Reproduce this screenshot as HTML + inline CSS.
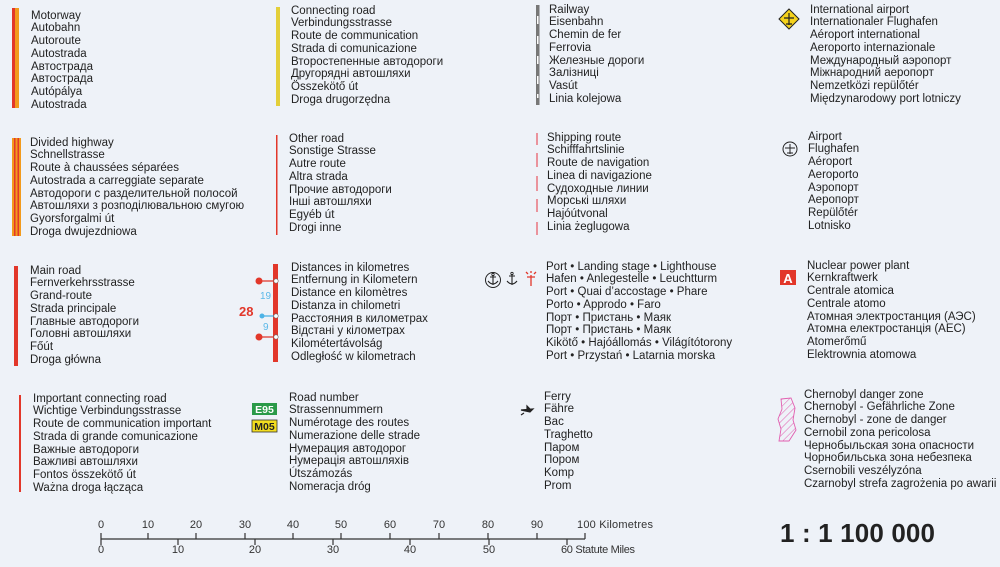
<!DOCTYPE html>
<html><head><meta charset="utf-8"><style>
body{margin:0;width:1000px;height:567px;background:#eef2f8;position:relative;overflow:hidden;font-family:"Liberation Sans",sans-serif;color:#222}
.t{position:absolute;font-size:11.5px;line-height:12.75px;white-space:nowrap}
.a{position:absolute}
</style></head><body>
<svg class="a" style="left:0;top:0" width="1000" height="567">
<rect x="12" y="8" width="7" height="100" fill="#f29a1c"/><rect x="12" y="8" width="3" height="100" fill="#e2372a"/>
<rect x="12" y="138" width="9" height="98" fill="#f29a1c"/><rect x="14" y="138" width="1.5" height="98" fill="#e2372a"/><rect x="17.5" y="138" width="1.5" height="98" fill="#e2372a"/>
<rect x="14" y="266" width="4" height="100" fill="#e2372a"/>
<rect x="19" y="395" width="2" height="97" fill="#e2372a"/>
<rect x="276" y="7" width="4" height="99" fill="#e3cf3a"/>
<rect x="276" y="135" width="1.5" height="100" fill="#e2372a"/>
<rect x="273" y="264" width="5" height="98" fill="#e2372a"/>
<line x1="259" y1="281" x2="276" y2="281" stroke="#e2372a" stroke-width="1.3"/><circle cx="259" cy="281" r="3.5" fill="#e2372a"/><circle cx="276" cy="281" r="2.2" fill="#fff" stroke="#666" stroke-width=".6"/>
<line x1="262" y1="316" x2="276" y2="316" stroke="#4db3e6" stroke-width="1.3"/><circle cx="262" cy="316" r="2.5" fill="#4db3e6"/><circle cx="276" cy="316" r="2.2" fill="#fff" stroke="#666" stroke-width=".6"/>
<line x1="259" y1="337" x2="276" y2="337" stroke="#e2372a" stroke-width="1.3"/><circle cx="259" cy="337" r="3.5" fill="#e2372a"/><circle cx="276" cy="337" r="2.2" fill="#fff" stroke="#666" stroke-width=".6"/>
<text x="260" y="299" font-size="10" fill="#5bb8e8" font-family="Liberation Sans">19</text>
<text x="263" y="330" font-size="10" fill="#5bb8e8" font-family="Liberation Sans">9</text>
<text x="239" y="316" font-size="13" font-weight="bold" fill="#e2372a" font-family="Liberation Sans">28</text>
<rect x="252" y="403" width="25" height="12" fill="#2a9a48"/><text x="264.5" y="413" font-size="10.5" font-weight="bold" fill="#fff" text-anchor="middle" font-family="Liberation Sans">E95</text>
<rect x="252" y="420" width="25" height="12" fill="#f3dd1f" stroke="#333" stroke-width=".8"/><text x="264.5" y="430" font-size="10.5" font-weight="bold" fill="#222" text-anchor="middle" font-family="Liberation Sans">M05</text>
<rect x="536" y="5" width="3.5" height="100" fill="#777"/>
<g fill="#fff"><rect x="537" y="16" width="1.5" height="8"/><rect x="537" y="36" width="1.5" height="8"/><rect x="537" y="56" width="1.5" height="8"/><rect x="537" y="76" width="1.5" height="8"/><rect x="537" y="94" width="1.5" height="4"/></g>
<g stroke="#e8606a" stroke-width="1.3"><line x1="537" y1="133" x2="537" y2="145"/><line x1="537" y1="153" x2="537" y2="167"/><line x1="537" y1="176" x2="537" y2="191"/><line x1="537" y1="199" x2="537" y2="212"/><line x1="537" y1="222" x2="537" y2="235"/></g>
<!-- port icons -->
<circle cx="493" cy="280" r="7.5" fill="none" stroke="#222" stroke-width="1"/>
<path d="M493 275v10M490 277h6M488 281q5 6 10 0" stroke="#222" stroke-width="1.1" fill="none"/><circle cx="493" cy="274.5" r="1.2" fill="none" stroke="#222" stroke-width=".8"/>
<path d="M512 274v11M509 276h6M507 281q5 6 10 0" stroke="#222" stroke-width="1.1" fill="none"/><circle cx="512" cy="273.5" r="1.2" fill="none" stroke="#222" stroke-width=".8"/>
<path d="M531 275v11M527 277h8M528 274l-2-2M534 274l2-2M531 273v-2" stroke="#e2372a" stroke-width="1.3" fill="none"/>
<path d="M521 410 l12 -1 -3 3 z M527 409 v-3 l3 3 M524 413 l-3 2" stroke="#222" stroke-width="1.2" fill="#222"/>
<path d="M789 9 l10 10 -10 10 -10 -10z" fill="#f5d21c" stroke="#222" stroke-width="1"/><path d="M789 13v12M784 18h10M786 24h6" stroke="#222" stroke-width="1.2"/>
<circle cx="790" cy="149" r="7" fill="none" stroke="#222" stroke-width="1"/><path d="M790 144v10M785 148h10M787 153h6" stroke="#222" stroke-width="1"/>
<rect x="780" y="270" width="16" height="15" fill="#e2372a"/><text x="788" y="283" font-size="13" font-weight="bold" fill="#fff" text-anchor="middle" font-family="Liberation Sans">A</text>
<defs><pattern id="h" width="5" height="5" patternUnits="userSpaceOnUse" patternTransform="rotate(45)"><line x1="0" y1="0" x2="0" y2="5" stroke="#e25fb0" stroke-width="1"/></pattern></defs>
<path d="M781 399 l10 -1 4 10 -2 12 3 10 -7 11 -10 0 2 -12 -3 -10 4 -10z" fill="url(#h)" stroke="#e25fb0" stroke-width=".9"/>
<g stroke="#333" stroke-width="1.2" fill="none"><line x1="101" y1="539" x2="585" y2="539"/>
<path d="M101 533v12M148 533v6M196 533v6M245 533v6M293 533v6M341 533v6M390 533v6M439 533v6M488 533v6M537 533v6M585 533v6M178 539v6M255 539v6M333 539v6M410 539v6M489 539v6M567 539v6"/></g>
<g font-family="Liberation Sans" font-size="11" fill="#333" text-anchor="middle" transform="scale(1,1)">
<text x="101" y="528">0</text><text x="148" y="528">10</text><text x="196" y="528">20</text><text x="245" y="528">30</text><text x="293" y="528">40</text><text x="341" y="528">50</text><text x="390" y="528">60</text><text x="439" y="528">70</text><text x="488" y="528">80</text><text x="537" y="528">90</text>
<text x="101" y="553">0</text><text x="178" y="553">10</text><text x="255" y="553">20</text><text x="333" y="553">30</text><text x="410" y="553">40</text><text x="489" y="553">50</text>
<text x="577" y="528" text-anchor="start" textLength="76">100 Kilometres</text><text x="561" y="553" text-anchor="start" textLength="74">60 Statute Miles</text></g>
<text x="780" y="542" font-family="Liberation Sans" font-size="26" font-weight="bold" fill="#222" textLength="155">1 : 1 100 000</text>
</svg>

<div class="t" style="left:31px;top:9.5px">Motorway<br>Autobahn<br>Autoroute<br>Autostrada<br>Автострада<br>Автострада<br>Autópálya<br>Autostrada</div>
<div class="t" style="left:30px;top:136.5px">Divided highway<br>Schnellstrasse<br>Route à chaussées séparées<br>Autostrada a carreggiate separate<br>Автодороги с разделительной полосой<br>Автошляхи з розподілювальною смугою<br>Gyorsforgalmi út<br>Droga dwujezdniowa</div>
<div class="t" style="left:30px;top:264.5px">Main road<br>Fernverkehrsstrasse<br>Grand-route<br>Strada principale<br>Главные автодороги<br>Головні автошляхи<br>Főút<br>Droga główna</div>
<div class="t" style="left:33px;top:392.5px">Important connecting road<br>Wichtige Verbindungsstrasse<br>Route de communication important<br>Strada di grande comunicazione<br>Важные автодороги<br>Важливі автошляхи<br>Fontos összekötő út<br>Ważna droga łącząca</div>

<div class="t" style="left:291px;top:4.5px">Connecting road<br>Verbindungsstrasse<br>Route de communication<br>Strada di comunicazione<br>Второстепенные автодороги<br>Другорядні автошляхи<br>Összekötő út<br>Droga drugorzędna</div>
<div class="t" style="left:289px;top:132.5px">Other road<br>Sonstige Strasse<br>Autre route<br>Altra strada<br>Прочие автодороги<br>Інші автошляхи<br>Egyéb út<br>Drogi inne</div>
<div class="t" style="left:291px;top:261.5px">Distances in kilometres<br>Entfernung in Kilometern<br>Distance en kilomètres<br>Distanza in chilometri<br>Расстояния в километрах<br>Відстані у кілометрах<br>Kilométertávolság<br>Odległość w kilometrach</div>
<div class="t" style="left:289px;top:391.5px">Road number<br>Strassennummern<br>Numérotage des routes<br>Numerazione delle strade<br>Нумерация автодорог<br>Нумерація автошляхів<br>Útszámozás<br>Nomeracja dróg</div>

<div class="t" style="left:549px;top:3.5px">Railway<br>Eisenbahn<br>Chemin de fer<br>Ferrovia<br>Железные дороги<br>Залізниці<br>Vasút<br>Linia kolejowa</div>
<div class="t" style="left:547px;top:131.5px">Shipping route<br>Schifffahrtslinie<br>Route de navigation<br>Linea di navigazione<br>Судоходные линии<br>Морські шляхи<br>Hajóútvonal<br>Linia żeglugowa</div>
<div class="t" style="left:546px;top:260.5px">Port • Landing stage • Lighthouse<br>Hafen • Anlegestelle • Leuchtturm<br>Port • Quai d’accostage • Phare<br>Porto • Approdo • Faro<br>Порт • Пристань • Маяк<br>Порт • Пристань • Маяк<br>Kikötő • Hajóállomás • Világítótorony<br>Port • Przystań • Latarnia morska</div>
<div class="t" style="left:544px;top:390.5px">Ferry<br>Fähre<br>Bac<br>Traghetto<br>Паром<br>Пором<br>Komp<br>Prom</div>

<div class="t" style="left:810px;top:3.5px">International airport<br>Internationaler Flughafen<br>Aéroport international<br>Aeroporto internazionale<br>Международный аэропорт<br>Міжнародний аеропорт<br>Nemzetközi repülőtér<br>Międzynarodowy port lotniczy</div>
<div class="t" style="left:808px;top:130.5px">Airport<br>Flughafen<br>Aéroport<br>Aeroporto<br>Аэропорт<br>Аеропорт<br>Repülőtér<br>Lotnisko</div>
<div class="t" style="left:807px;top:259.5px">Nuclear power plant<br>Kernkraftwerk<br>Centrale atomica<br>Centrale atomo<br>Атомная электростанция (АЭС)<br>Атомна електростанція (АЕС)<br>Atomerőmű<br>Elektrownia atomowa</div>
<div class="t" style="left:804px;top:388.5px">Chernobyl danger zone<br>Chernobyl - Gefährliche Zone<br>Chernobyl - zone de danger<br>Cernobil zona pericolosa<br>Чернобыльская зона опасности<br>Чорнобильська зона небезпека<br>Csernobili veszélyzóna<br>Czarnobyl strefa zagrożenia po awarii</div>
</body></html>
